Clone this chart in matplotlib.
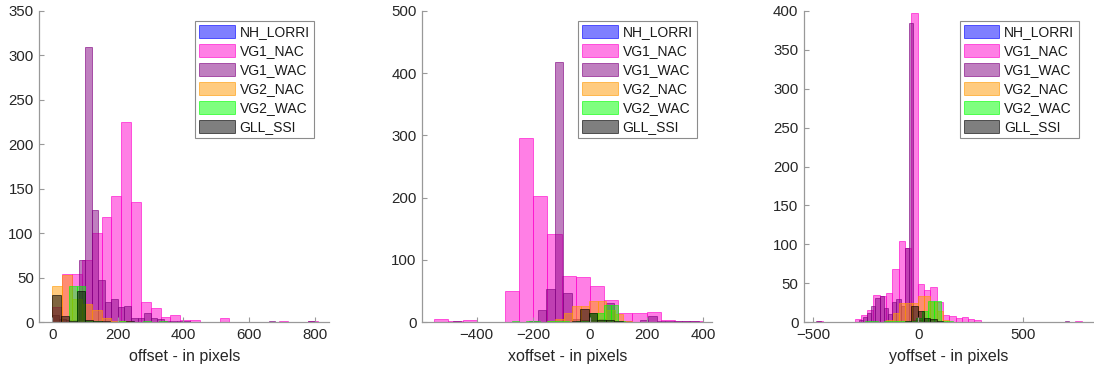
import numpy as np
import matplotlib
matplotlib.use("Agg")
import matplotlib.pyplot as plt
from matplotlib.patches import Patch

plt.rcParams['font.family'] = ['Liberation Sans', 'DejaVu Sans']

instruments = ["NH_LORRI", "VG1_NAC", "VG1_WAC", "VG2_NAC", "VG2_WAC", "GLL_SSI"]
colors = [(0, 0, 1), (1, 0, 0.8), (0.5, 0, 0.5), (1, 0.6, 0), (0, 1, 0), (0, 0, 0)]

# ---- offset (first bin edge, bin width) and counts per instrument
offset_bins = {"VG1_NAC": (0, 30), "VG1_WAC": (0, 20), "VG2_NAC": (0, 30),
               "VG2_WAC": (0, 25), "GLL_SSI": (0, 25)}
offset_vg1_nac = [17, 54, 54, 70, 100, 118, 142, 225, 135, 23, 16, 6, 8, 2, 2,
                  0, 0, 4, 0, 0, 0, 0, 0, 1, 0, 0, 1]
offset_vg1_wac = [8, 3, 2, 2, 70, 310, 126, 47, 22, 26, 17, 18, 5, 4, 10, 5, 3, 1,
                  1, 1, 1, 0, 0, 0, 0, 0, 0, 0, 0, 0, 0, 0, 0, 1, 0, 0, 0, 0, 0, 1]
offset_vg2_nac = [40, 53, 26, 20, 14, 5, 1, 1, 0]
offset_vg2_wac = [0, 0, 41, 40, 1, 1, 0, 0, 1, 0, 0, 1, 0, 1]
offset_gll_ssi = [30, 7, 1, 35, 2, 1, 1, 0, 0, 1]

# ---- xoffset
xoffset_bins = {"VG1_NAC": (-550, 50), "VG1_WAC": (-485, 30), "VG2_NAC": (-152, 30),
                "VG2_WAC": (-300, 25), "GLL_SSI": (-65, 30)}
xoffset_vg1_nac = [5, 1, 3, 0, 0, 50, 296, 202, 141, 74, 72, 58, 36, 15, 14, 16, 3, 2, 1]
xoffset_vg1_wac = [1, 0, 0, 0, 0, 0, 0, 0, 0, 2, 20, 53, 418, 46, 5, 3, 3, 5, 30, 2,
                   1, 0, 4, 9, 2, 1, 2, 1, 1]
xoffset_vg2_nac = [2, 5, 14, 25, 25, 33, 33, 20, 13, 1]
xoffset_vg2_wac = [0, 1, 0, 1, 1, 0, 1, 1, 1, 0, 1, 1, 14, 14, 27, 27, 1]
xoffset_gll_ssi = [1, 21, 15, 4, 4, 1]

# ---- yoffset
yoffset_bins = {"VG1_NAC": (-483, 30), "VG1_WAC": (-484, 20), "VG2_NAC": (-152, 30),
                "VG2_WAC": (-253, 30), "GLL_SSI": (-63, 30)}
yoffset_vg1_nac = [1, 0, 0, 0, 0, 0, 4, 9, 15, 35, 34, 37, 68, 104, 95, 397, 49, 41,
                   45, 26, 9, 8, 5, 7, 4, 2, 0, 0, 0, 0, 0, 0, 0, 0, 0, 0, 0, 0, 0,
                   0, 0, 1]
yoffset_vg1_wac = [1, 0, 0, 0, 0, 0, 0, 0, 0, 0, 3, 7, 12, 21, 31, 33, 18, 10, 26,
                   30, 20, 95, 385, 3, 2, 1, 1, 0, 1] + [0] * 30 + [1]
yoffset_vg2_nac = [3, 12, 24, 24, 24, 34, 34, 26, 14, 2]
yoffset_vg2_wac = [1, 1, 0, 1, 1, 1, 1, 1, 5, 14, 27, 27, 1, 1]
yoffset_gll_ssi = [1, 21, 14, 5, 4, 1]

panels = [
    ("offset - in pixels", offset_bins,
     {"VG1_NAC": offset_vg1_nac, "VG1_WAC": offset_vg1_wac, "VG2_NAC": offset_vg2_nac,
      "VG2_WAC": offset_vg2_wac, "GLL_SSI": offset_gll_ssi},
     (-40, 845), (0, 350), [0, 200, 400, 600, 800], np.arange(0, 351, 50)),
    ("xoffset - in pixels", xoffset_bins,
     {"VG1_NAC": xoffset_vg1_nac, "VG1_WAC": xoffset_vg1_wac, "VG2_NAC": xoffset_vg2_nac,
      "VG2_WAC": xoffset_vg2_wac, "GLL_SSI": xoffset_gll_ssi},
     (-592, 432), (0, 500), [-400, -200, 0, 200, 400], np.arange(0, 501, 100)),
    ("yoffset - in pixels", yoffset_bins,
     {"VG1_NAC": yoffset_vg1_nac, "VG1_WAC": yoffset_vg1_wac, "VG2_NAC": yoffset_vg2_nac,
      "VG2_WAC": yoffset_vg2_wac, "GLL_SSI": yoffset_gll_ssi},
     (-543, 835), (0, 400), [-500, 0, 500], np.arange(0, 401, 50)),
]

fig = plt.figure(figsize=(10.94, 3.73), dpi=100)
lefts = [39.3, 422.3, 804]
text_col = "0.15"
axis_col = "0.6"

for left, (xlabel, bins, data, xlim, ylim, xt, yt) in zip(lefts, panels):
    ax = fig.add_axes([left / 1094, 51 / 373, 290 / 1094, 311 / 373])
    for name, col in zip(instruments, colors):
        if name not in data:
            continue
        start, width = bins[name]
        counts = data[name]
        edges = start + width * np.arange(len(counts))
        ax.bar(edges, counts, width=width, align="edge",
               facecolor=(*col, 0.5), edgecolor=(*col, 0.6), linewidth=0.7)
    ax.set_xlim(xlim)
    ax.set_ylim(ylim)
    ax.set_xticks(xt)
    ax.set_yticks(yt)
    for s in ["top", "right"]:
        ax.spines[s].set_visible(False)
    for s in ["left", "bottom"]:
        ax.spines[s].set_color(axis_col)
        ax.spines[s].set_linewidth(0.9)
    ax.tick_params(direction="in", length=3.5, width=0.8, color=axis_col,
                   labelcolor=text_col, labelsize=10.8, pad=4)
    ax.set_xlabel(xlabel, fontsize=11.5, color=text_col, labelpad=5)

    handles = [Patch(facecolor=(*c, 0.5), edgecolor=(*c, 0.6), linewidth=0.7)
               for c in colors]
    leg = ax.legend(handles, instruments, loc="upper right",
                    bbox_to_anchor=(0.947, 0.969), borderaxespad=0,
                    fontsize=10, handlelength=2.55, handleheight=1.1,
                    labelspacing=0.33, handletextpad=0.35, borderpad=0.3,
                    fancybox=False, framealpha=1)
    leg.get_frame().set_edgecolor("0.55")
    leg.get_frame().set_linewidth(0.8)
    for t in leg.get_texts():
        t.set_color("0.1")

fig.savefig("out.png", dpi=100)
